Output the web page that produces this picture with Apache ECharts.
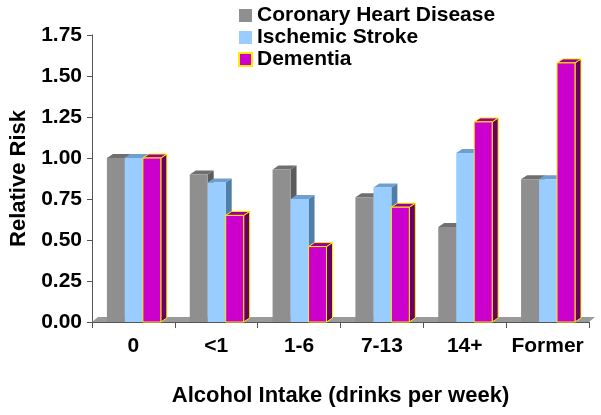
<!DOCTYPE html>
<html>
<head>
<meta charset="utf-8">
<script src="https://cdn.jsdelivr.net/npm/echarts@6/dist/echarts.min.js"></script>
<style>
html,body{margin:0;padding:0;background:#fff;}
#chart{width:601px;height:415px;}
</style>
</head>
<body>
<div id="chart"></div>
<script>
var categories = ['0', '<1', '1-6', '7-13', '14+', 'Former'];
var seriesNames = ['Coronary Heart Disease', 'Ischemic Stroke', 'Dementia'];
var chd = [1.00, 0.90, 0.93, 0.76, 0.58, 0.87];
var stroke = [1.00, 0.85, 0.75, 0.82, 1.03, 0.87];
var dementia = [1.00, 0.65, 0.46, 0.70, 1.22, 1.58];
var yTicks = [0, 0.25, 0.5, 0.75, 1.0, 1.25, 1.5, 1.75];

var FONT = '"Liberation Sans", Arial, sans-serif';
var styles = [
  {front: '#8f8f8f', top: '#6f6f6f', side: '#5c5c5c', border: null},
  {front: '#99ccff', top: '#6f9fd0', side: '#4f7fa8', border: null},
  {front: '#cc00cc', top: '#990099', side: '#660066', border: '#ffee00'}
];
var DX = 6, DY = 4;

function makeRender(k) {
  return function (params, api) {
    var ci = api.value(0), v = api.value(1);
    var base = api.coord([ci, 0]);
    var w = api.size([1, 0])[0];
    var bw = w * 0.217;
    var left = base[0] - w / 2 + w * (0.18 + k * 0.217);
    var top = api.coord([ci, v])[1];
    var yb = base[1];
    var s = styles[k];
    var stroke = s.border ? {stroke: s.border, lineWidth: 1} : {};
    function st(fill) { return Object.assign({fill: fill}, stroke); }
    return {
      type: 'group',
      children: [
        {type: 'polygon', shape: {points: [[left + bw, top], [left + bw + DX, top - DY], [left + bw + DX, yb - DY], [left + bw, yb]]}, style: st(s.side)},
        {type: 'polygon', shape: {points: [[left, top], [left + DX, top - DY], [left + bw + DX, top - DY], [left + bw, top]]}, style: st(s.top)},
        {type: 'rect', shape: {x: left, y: top, width: bw, height: yb - top}, style: st(s.front)}
      ]
    };
  };
}

function toData(arr) { return arr.map(function (v, i) { return [i, v]; }); }

var allData = [chd, stroke, dementia];
var series = [{
  type: 'custom',
  name: 'floor',
  silent: true,
  z: 1,
  data: [[0, 0]],
  renderItem: function (params, api) {
    var c = params.coordSys;
    var yb = c.y + c.height;
    return {
      type: 'polygon',
      shape: {points: [[c.x, yb], [c.x + DX, yb - DY - 1], [c.x + c.width + DX, yb - DY - 1], [c.x + c.width, yb]]},
      style: {fill: '#9a9a9a'}
    };
  }
}];
seriesNames.forEach(function (n, k) {
  series.push({
    type: 'custom',
    name: n,
    z: 2 + k,
    encode: {x: 0, y: 1},
    itemStyle: {color: styles[k].front, borderColor: styles[k].border || styles[k].front, borderWidth: styles[k].border ? 1 : 0},
    data: toData(allData[k]),
    renderItem: makeRender(k)
  });
});

var chart = echarts.init(document.getElementById('chart'));
chart.setOption({
  animation: false,
  backgroundColor: '#ffffff',
  grid: {left: 90, right: 12, top: 35, bottom: 93},
  legend: {
    data: seriesNames.map(function (n) { return {name: n, icon: 'rect'}; }),
    orient: 'vertical',
    left: 238,
    top: 5,
    padding: 0,
    itemWidth: 13,
    itemHeight: 13,
    itemGap: 1,
    textStyle: {fontFamily: FONT, fontWeight: 'bold', fontSize: 21, color: '#000'}
  },
  xAxis: {
    type: 'category',
    data: categories,
    name: 'Alcohol Intake (drinks per week)',
    nameLocation: 'middle',
    nameGap: 63,
    nameTextStyle: {fontFamily: FONT, fontWeight: 'bold', fontSize: 22, color: '#000'},
    axisLine: {lineStyle: {color: '#555', width: 1}},
    axisTick: {show: true, alignWithLabel: false, interval: 0, length: 6, lineStyle: {color: '#555'}},
    axisLabel: {margin: 14, fontFamily: FONT, fontWeight: 'bold', fontSize: 21, color: '#000', interval: 0}
  },
  yAxis: {
    type: 'value',
    min: yTicks[0],
    max: yTicks[yTicks.length - 1],
    interval: 0.25,
    name: 'Relative Risk',
    nameLocation: 'middle',
    nameGap: 62,
    nameTextStyle: {fontFamily: FONT, fontWeight: 'bold', fontSize: 22, color: '#000'},
    axisLine: {show: true, lineStyle: {color: '#555', width: 1}},
    axisTick: {show: true, length: 5, lineStyle: {color: '#555'}},
    splitLine: {show: false},
    axisLabel: {margin: 10, fontFamily: FONT, fontWeight: 'bold', fontSize: 21, color: '#000', formatter: function (v) { return v.toFixed(2); }}
  },
  series: series
});
</script>
</body>
</html>
